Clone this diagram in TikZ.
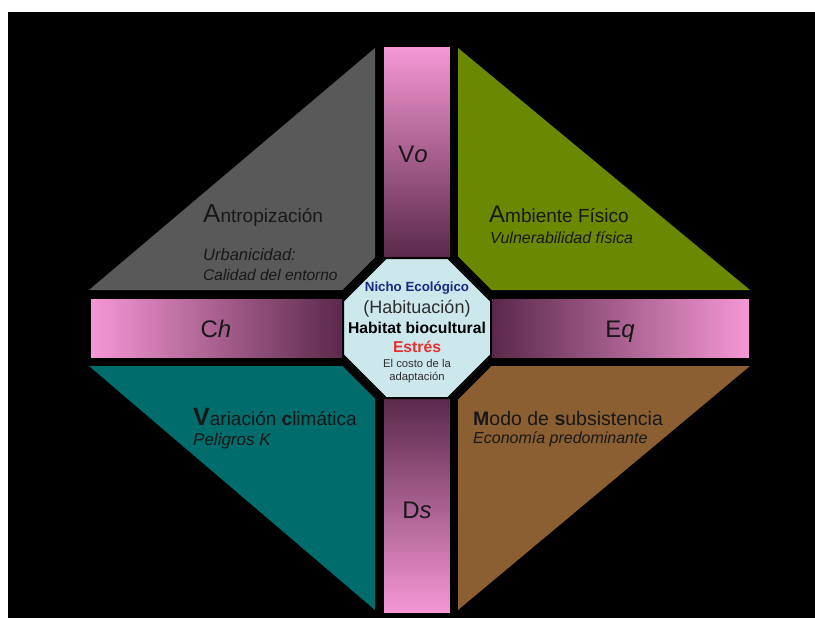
\documentclass[tikz,border=0pt]{standalone}
\usepackage{fontspec}
\setmainfont{Liberation Sans}
\usepackage{xcolor}

\definecolor{barpink}{RGB}{246,152,214}
\definecolor{bardark}{RGB}{90,40,74}
\definecolor{antgray}{RGB}{89,89,89}
\definecolor{ambgreen}{RGB}{107,137,0}
\definecolor{varteal}{RGB}{0,108,108}
\definecolor{modbrown}{RGB}{140,95,50}
\definecolor{nichofill}{RGB}{205,232,236}
\definecolor{nichoblue}{RGB}{28,38,128}
\definecolor{estresred}{RGB}{228,48,48}
\definecolor{txtdark}{RGB}{24,24,24}
\definecolor{txtgray}{RGB}{45,45,45}

\newcommand{\fs}[1]{\fontsize{#1}{#1}\selectfont}

\begin{document}
\begin{tikzpicture}[x=1pt,y=-1pt,
	lbl/.style={anchor=base west,inner sep=0pt,text=txtdark},
	barlbl/.style={anchor=base,inner sep=0pt,text=txtdark,font=\fs{24}},
	octlbl/.style={anchor=base,inner sep=0pt}]
	\fill[white] (0,0) rectangle (815,618);
	\fill[black] (8,12) rectangle (815,618);
	
	\fill[antgray] (89,290) -- (375,290) -- (375,48) -- cycle;
	\fill[ambgreen] (458,48) -- (458,290) -- (750,290) -- cycle;
	\fill[varteal] (89,366) -- (375,366) -- (375,610) -- cycle;
	\fill[modbrown] (458,366) -- (750,366) -- (458,610) -- cycle;
	
	\draw[black,line width=16pt,line join=miter] (386,258) -- (448,258) -- (491,301) -- (491,355) -- (448,398) -- (386,398) -- (343,355) -- (343,301) -- cycle;
	
	\shade[top color=barpink,bottom color=bardark,draw=black,line width=1.5pt] (383,46) rectangle (451,258);
	\shade[top color=bardark,bottom color=barpink,draw=black,line width=1.5pt] (383,398) rectangle (451,614);
	\shade[left color=barpink,right color=bardark,draw=black,line width=1.5pt] (90,298) rectangle (343,359);
	\shade[left color=bardark,right color=barpink,draw=black,line width=1.5pt] (491,298) rectangle (750,359);
	
	\filldraw[fill=nichofill,draw=black,line width=2pt] (386,258) -- (448,258) -- (491,301) -- (491,355) -- (448,398) -- (386,398) -- (343,355) -- (343,301) -- cycle;
	
	\node[lbl,font=\fs{19}] (antro) at (203,222) {{\fs{26}A}ntropización};
	\node[lbl,font=\fs{16.5}\itshape] (urban) at (203,260) {Urbanicidad:};
	\node[lbl,font=\fs{15.5}\itshape] (calidad) at (203,280) {Calidad del entorno};
	
	\node[lbl,font=\fs{19}] (ambiente) at (489,222) {{\fs{24}A}mbiente Físico};
	\node[lbl,font=\fs{16}\itshape] (vulner) at (490,243) {Vulnerabilidad física};
	
	\node[lbl,font=\fs{19}] (variacion) at (193,425) {{\fs{25}\bfseries V}ariación {\bfseries c}limática};
	\node[lbl,font=\fs{17}\itshape] (peligros) at (193,445) {Peligros K};
	
	\node[lbl,font=\fs{19.5}] (modo) at (473,425) {{\bfseries M}odo de {\bfseries s}ubsistencia};
	\node[lbl,font=\fs{16}\itshape] (economia) at (473,443) {Economía predominante};
	
	\node[barlbl] (vo) at (413,163) {V\textit{o}};
	\node[barlbl] (ch) at (216,337) {C\textit{h}};
	\node[barlbl] (eq) at (620,337) {E\textit{q}};
	\node[barlbl] (ds) at (417,518) {D\textit{s}};
	
	\node[octlbl,text=nichoblue,font=\fs{13.3}\bfseries] (nicho) at (417,291) {Nicho Ecológico};
	\node[octlbl,text=txtgray,font=\fs{18}] (habit) at (417,313) {(Habituación)};
	\node[octlbl,text=black,font=\fs{15.7}\bfseries] (habitat) at (417,333) {Habitat biocultural};
	\node[octlbl,text=estresred,font=\fs{15.7}\bfseries] (estres) at (417,352) {Estrés};
	\node[octlbl,text=txtgray,font=\fs{11.3}] (costo) at (417,367) {El costo de la};
	\node[octlbl,text=txtgray,font=\fs{11.3}] (adapt) at (417,380) {adaptación};
\end{tikzpicture}
\end{document}
